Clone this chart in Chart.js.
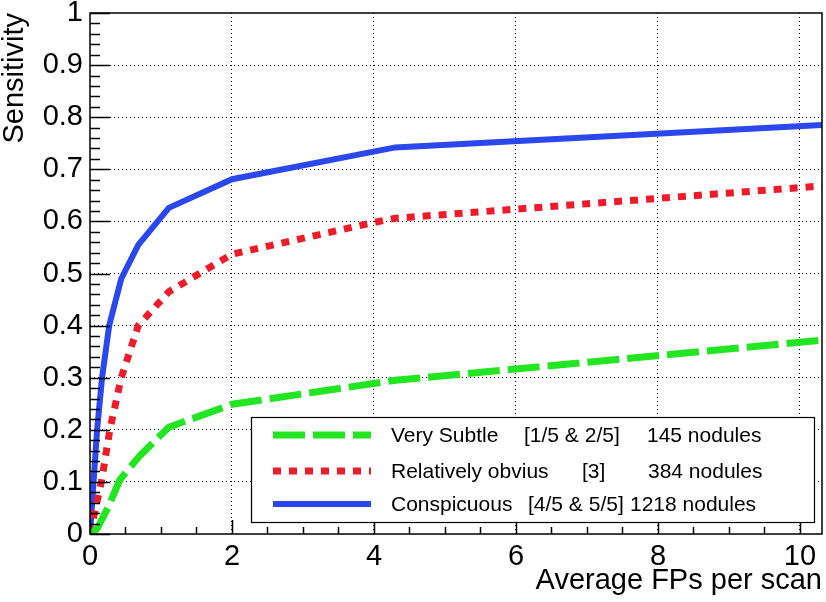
<!DOCTYPE html>
<html lang="en">
<head>
  <meta charset="UTF-8" />
  <title>Sensitivity vs FPs per scan</title>
  <script src="https://cdn.jsdelivr.net/npm/chart.js"></script>
  <style>
    html, body { margin: 0; padding: 0; background: #fff; }
    #wrap { width: 826px; height: 602px; }
  </style>
</head>
<body>
  <div id="wrap"><canvas id="froc"></canvas></div>

  <script>
    // values
    const subtleX = [0, 0.1, 0.25, 0.42, 0.7, 1.11, 2.0, 4.3, 10.31];
    const subtleY = [0, 0.01, 0.05, 0.104, 0.15, 0.205, 0.249, 0.295, 0.372];

    const obviousX = [0, 0.08, 0.16, 0.28, 0.44, 0.68, 1.11, 2.0, 4.0, 4.3, 10.31];
    const obviousY = [0, 0.05, 0.1, 0.2, 0.3, 0.4, 0.465, 0.537, 0.598, 0.606, 0.668];

    const conspX = [0, 0.05, 0.1, 0.17, 0.27, 0.44, 0.68, 1.11, 2.0, 4.3, 10.31];
    const conspY = [0, 0.1, 0.2, 0.3, 0.4, 0.49, 0.555, 0.626, 0.681, 0.742, 0.785];

    const legendRows = [
      ["Very Subtle", "[1/5 & 2/5]", "145 nodules"],
      ["Relatively obvius", "[3]", "384 nodules"],
      ["Conspicuous", "[4/5 & 5/5]", "1218 nodules"]
    ];

    const xMax = 10.31;
    const font = "'Liberation Sans', Arial, Helvetica, sans-serif";

    function pts(xs, ys) {
      return xs.map((x, i) => ({ x: x, y: ys[i] }));
    }

    const styles = [
      { color: "#22e622", dash: [32, 8], width: 7 },
      { color: "#ee1c2a", dash: [8, 8], width: 7 },
      { color: "#2a48ee", dash: [], width: 6 }
    ];

    // frame, inner tick marks and the boxed legend, ROOT style
    const rootDecor = {
      id: "rootDecor",
      afterDatasetsDraw(chart) {
        const c = chart.ctx;
        const a = chart.chartArea;
        const xs = chart.scales.x, ys = chart.scales.y;
        c.save();
        c.strokeStyle = "#000";
        c.lineWidth = 1.5;
        c.setLineDash([]);
        // y ticks every 0.02, long at 0.1
        for (let i = 0; i <= 50; i++) {
          const py = Math.round(ys.getPixelForValue(i * 0.02)) + 0.5;
          const len = i % 5 === 0 ? 20 : 10;
          c.beginPath(); c.moveTo(a.left, py); c.lineTo(a.left + len, py); c.stroke();
        }
        // x ticks every 0.5, long at 2
        for (let i = 0; i * 0.5 <= xMax; i++) {
          const px = Math.round(xs.getPixelForValue(i * 0.5)) + 0.5;
          const len = i % 4 === 0 ? 14 : 7;
          c.beginPath(); c.moveTo(px, a.bottom); c.lineTo(px, a.bottom - len); c.stroke();
        }
        c.strokeRect(a.left, a.top, a.right - a.left, a.bottom - a.top);

        // legend
        c.fillStyle = "#fff";
        c.fillRect(251, 417, 563, 105);
        c.lineWidth = 1.2;
        c.strokeStyle = "#000";
        c.strokeRect(251.5, 417.5, 563, 105);
        const rowY = [435, 471, 504];
        const colX = [[391, 524, 647], [391, 582, 648], [391, 528, 630]];
        c.font = "21px " + font;
        c.textBaseline = "middle";
        legendRows.forEach((row, r) => {
          const s = styles[r];
          c.strokeStyle = s.color;
          c.lineWidth = s.width;
          c.setLineDash(s.dash);
          c.beginPath(); c.moveTo(273, rowY[r]); c.lineTo(371, rowY[r]); c.stroke();
          c.setLineDash([]);
          c.fillStyle = "#000";
          row.forEach((t, k) => c.fillText(t, colX[r][k], rowY[r] + 1));
        });
        c.restore();
      }
    };

    const series = [pts(subtleX, subtleY), pts(obviousX, obviousY), pts(conspX, conspY)];

    new Chart(document.getElementById("froc"), {
      type: "line",
      data: {
        datasets: series.map((d, i) => ({
          label: legendRows[i].join(" "),
          data: d,
          borderColor: styles[i].color,
          borderWidth: styles[i].width,
          borderDash: styles[i].dash,
          borderCapStyle: "butt",
          pointRadius: 0,
          tension: 0,
          fill: false
        }))
      },
      options: {
        responsive: true,
        maintainAspectRatio: false,
        animation: false,
        layout: { padding: { top: 13, right: 4, left: 0, bottom: 0 } },
        plugins: { legend: { display: false }, tooltip: { enabled: false } },
        scales: {
          x: {
            type: "linear",
            min: 0,
            max: xMax,
            ticks: {
              stepSize: 2,
              includeBounds: false,
              color: "#000",
              padding: 6,
              maxRotation: 0,
              font: { family: font, size: 29 }
            },
            grid: {
              drawTicks: false,
              lineWidth: 1,
              color: ctx => (ctx.tick && ctx.tick.value === 0) ? "rgba(0,0,0,0)" : "#000"
            },
            border: { display: false, dash: [1, 3] },
            title: {
              display: true,
              text: "Average FPs per scan",
              align: "end",
              color: "#000",
              padding: { top: 0, bottom: 4 },
              font: { family: font, size: 29 }
            },
            afterFit(s) {
              s.height = 68;
              s.paddingLeft = 0;
              s.paddingRight = 0;
            }
          },
          y: {
            min: 0,
            max: 1,
            ticks: {
              stepSize: 0.1,
              color: "#000",
              padding: 7,
              font: { family: font, size: 29 },
              callback: v => String(+v.toFixed(2))
            },
            grid: {
              drawTicks: false,
              lineWidth: 1,
              color: ctx => (ctx.tick && (ctx.tick.value === 0 || ctx.tick.value === 1)) ? "rgba(0,0,0,0)" : "#000"
            },
            border: { display: false, dash: [1, 3] },
            title: {
              display: true,
              text: "Sensitivity",
              align: "end",
              color: "#000",
              padding: 0,
              font: { family: font, size: 29, lineHeight: 1 }
            },
            afterFit(s) {
              s.width = 90;
              s.paddingTop = 0;
              s.paddingBottom = 0;
            }
          }
        }
      },
      plugins: [rootDecor]
    });
  </script>
</body>
</html>
